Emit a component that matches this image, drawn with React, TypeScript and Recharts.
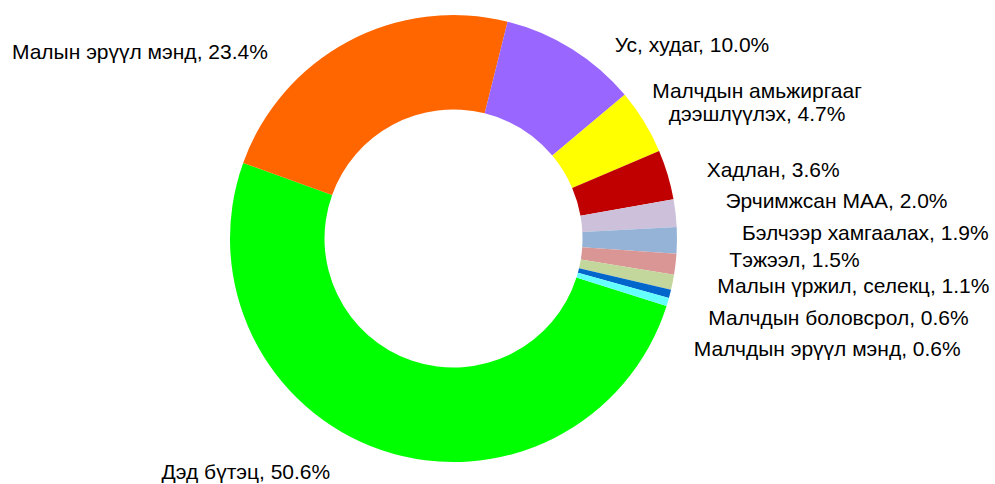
import { PieChart, Pie, Cell } from "recharts";

// share of investment by sector, %
const categories = [
    "Дэд бүтэц",
    "Малын эрүүл мэнд",
    "Ус, худаг",
    "Малчдын амьжиргааг дээшлүүлэх",
    "Хадлан",
    "Эрчимжсан МАА",
    "Бэлчээр хамгаалах",
    "Тэжээл",
    "Малын үржил, селекц",
    "Малчдын боловсрол",
    "Малчдын эрүүл мэнд",
];
const shares = [50.6, 23.4, 10.0, 4.7, 3.6, 2.0, 1.9, 1.5, 1.1, 0.6, 0.6];

const colors = [
    "#00FF00", "#FF6600", "#9966FF", "#FFFF00", "#C00000", "#CCC0DA",
    "#95B3D7", "#D99694", "#C3D69B", "#0066CC", "#66FFFF",
];

// labels were dragged around in the original, so nudge them off the radial spot
const LABEL_GAP = 24;
const labelNudge: [number, number][] = [
    [-44, -1], [-69, 31.5], [30, 16], [92.6, -7.25], [16, 2], [26, -10],
    [41, -8], [30, -8], [21, -1.5], [15, 17.6], [3, 40],
];

const FONT = "'Liberation Sans', Arial, sans-serif";
const RAD = Math.PI / 180;

const data = categories.map((name, i) => ({ name, value: shares[i] }));

function renderLabel(p: any) {
    const { cx, cy, midAngle, outerRadius, index, name, value } = p;
    const r = outerRadius + LABEL_GAP;
    const [dx, dy] = labelNudge[index] ?? [0, 0];
    const x = cx + r * Math.cos(-midAngle * RAD) + dx;
    const y = cy + r * Math.sin(-midAngle * RAD) + dy;
    const text = `${name}, ${Number(value).toFixed(1)}%`;

    if (text.length > 30) {
        const cut = name.lastIndexOf(" ");
        const lines = [name.slice(0, cut), `${name.slice(cut + 1)}, ${Number(value).toFixed(1)}%`];
        return (
            <text x={x} y={y} textAnchor="middle" fill="#000" fontSize={21} fontFamily={FONT}>
                {lines.map((l, k) => (
                    <tspan key={k} x={x} y={y + (k - 0.5) * 23} dominantBaseline="central">{l}</tspan>
                ))}
            </text>
        );
    }
    const left = Math.cos(-midAngle * RAD) < 0;
    return (
        <text x={x} y={y} textAnchor={left ? "end" : "start"} dominantBaseline="central"
            fill="#000" fontSize={21} fontFamily={FONT}>
            {text}
        </text>
    );
}

export default function App() {
    return (
        <div style={{ width: 995, height: 484, background: "#fff" }}>
            <style>{`body{margin:0}`}</style>
            <PieChart width={995} height={484} margin={{ top: 0, right: 0, bottom: 0, left: 0 }}>
                <Pie
                    data={data}
                    dataKey="value"
                    nameKey="name"
                    cx={453.5}
                    cy={238.5}
                    innerRadius={129}
                    outerRadius={223.5}
                    startAngle={-17.6}
                    endAngle={-377.6}
                    stroke="none"
                    label={renderLabel}
                    labelLine={false}
                    isAnimationActive={false}
                >
                    {data.map((d, i) => <Cell key={d.name} fill={colors[i]} />)}
                </Pie>
            </PieChart>
        </div>
    );
}
